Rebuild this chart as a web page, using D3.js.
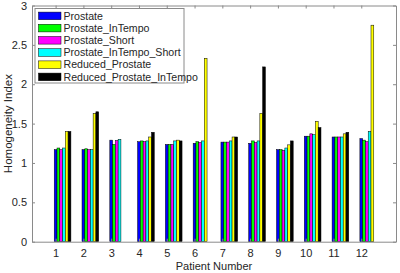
<!DOCTYPE html>
<html>
<head>
<meta charset="utf-8">
<script src="https://cdn.jsdelivr.net/npm/d3@7"></script>
<style>
  body { margin: 0; background: #fff; }
  text { font-family: "Liberation Sans", Arial, sans-serif; fill: #262626; }
</style>
</head>
<body>
<div id="chart"></div>
<script>
// data
const patients = [1, 2, 3, 4, 5, 6, 7, 8, 9, 10, 11, 12];
const seriesNames = ["Prostate", "Prostate_InTempo", "Prostate_Short", "Prostate_InTempo_Short", "Reduced_Prostate", "Reduced_Prostate_InTempo"];
const prostate              = [1.17, 1.17, 1.29, 1.27, 1.235, 1.25, 1.265, 1.25, 1.17, 1.34, 1.33, 1.31];
const prostateInTempo       = [1.19, 1.18, 1.235, 1.28, 1.235, 1.27, 1.265, 1.28, 1.17, 1.34, 1.33, 1.29];
const prostateShort         = [1.17, 1.17, 1.285, 1.27, 1.235, 1.26, 1.265, 1.26, 1.16, 1.37, 1.33, 1.27];
const prostateInTempoShort  = [1.19, 1.17, 1.30, 1.28, 1.28, 1.28, 1.28, 1.28, 1.19, 1.36, 1.33, 1.40];
const reducedProstate       = [1.40, 1.63, 0, 1.33, 1.29, 2.33, 1.33, 1.63, 1.23, 1.53, 1.37, 2.75];
const reducedProstateInTempo= [1.40, 1.65, 0, 1.39, 1.28, 0, 1.33, 2.22, 1.28, 1.45, 1.39, 0];
const colors = ["#0000ff", "#00ff00", "#ff00ff", "#00ffff", "#ffff00", "#000000"];
const yTicks = [0, 0.5, 1, 1.5, 2, 2.5, 3];

const allSeries = [prostate, prostateInTempo, prostateShort, prostateInTempoShort, reducedProstate, reducedProstateInTempo];

const width = 400, height = 273;
const margin = { top: 5.5, right: 4, bottom: 31.3, left: 32 };

const svg = d3.select("#chart").append("svg")
  .attr("width", width).attr("height", height);

const x = d3.scaleLinear().domain([0.15, 13.25]).range([margin.left, width - margin.right]);
const y = d3.scaleLinear().domain([0, 3]).range([height - margin.bottom, margin.top]);

const barW = 0.1;
const axisColor = "#8a8a8a";

// bars, each series shifted by 0.1 in patient units
allSeries.forEach((vals, j) => {
  svg.append("g")
    .selectAll("rect")
    .data(vals.map((v, i) => ({ p: patients[i], v })))
    .join("rect")
    .filter(d => d.v > 0)
    .attr("x", d => x(d.p + j * barW - barW / 2))
    .attr("width", d => x(d.p + barW / 2) - x(d.p - barW / 2))
    .attr("y", d => y(d.v))
    .attr("height", d => y(0) - y(d.v))
    .attr("fill", colors[j])
    .attr("stroke", "#000")
    .attr("stroke-width", 0.5);
});

// axes with inward ticks (box)
const xb = svg.append("g").attr("transform", `translate(0,${y(0)})`)
  .call(d3.axisBottom(x).tickValues(patients).tickSizeInner(-3).tickSizeOuter(0).tickPadding(8));
const xt = svg.append("g").attr("transform", `translate(0,${y(3)})`)
  .call(d3.axisTop(x).tickValues(patients).tickSizeInner(-3).tickSizeOuter(0).tickFormat(""));
const yl = svg.append("g").attr("transform", `translate(${x.range()[0]},0)`)
  .call(d3.axisLeft(y).tickValues(yTicks).tickSizeInner(-3).tickSizeOuter(0).tickPadding(5).tickFormat(d3.format("")));
const yr = svg.append("g").attr("transform", `translate(${x.range()[1]},0)`)
  .call(d3.axisRight(y).tickValues(yTicks).tickSizeInner(-3).tickSizeOuter(0).tickFormat(""));

[xb, xt, yl, yr].forEach(g => {
  g.select(".domain").attr("stroke", axisColor);
  g.selectAll(".tick line").attr("stroke", axisColor);
  g.selectAll("text").attr("font-size", 11).attr("fill", "#262626")
    .style("font-family", "'Liberation Sans', Arial, sans-serif");
});

// axis titles
svg.append("text")
  .attr("x", (x.range()[0] + x.range()[1]) / 2)
  .attr("y", 270)
  .attr("text-anchor", "middle")
  .attr("font-size", 11)
  .text("Patient Number");

svg.append("text")
  .attr("transform", `translate(12,${(y(0) + y(3)) / 2}) rotate(-90)`)
  .attr("text-anchor", "middle")
  .attr("font-size", 11.5)
  .text("Homogeneity Index");

// legend
const legend = svg.append("g");
legend.append("rect")
  .attr("x", 35).attr("y", 8.5).attr("width", 149).attr("height", 74.5)
  .attr("fill", "#fff").attr("stroke", axisColor).attr("stroke-width", 1);

seriesNames.forEach((name, j) => {
  const cy = 15.9 + j * 12.2;
  legend.append("rect")
    .attr("x", 38.5).attr("y", cy - 3.8).attr("width", 22.5).attr("height", 7.6)
    .attr("fill", colors[j]).attr("stroke", "#000").attr("stroke-width", 0.5);
  legend.append("text")
    .attr("x", 63.5).attr("y", cy)
    .attr("dy", "0.35em")
    .attr("font-size", 10.6)
    .text(name);
});
</script>
</body>
</html>
